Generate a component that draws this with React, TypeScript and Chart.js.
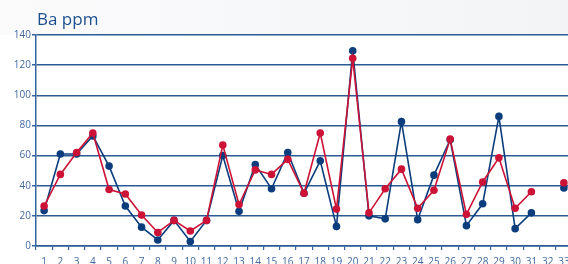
import React, { useEffect, useRef } from "react";
import { Chart, registerables } from "chart.js";

Chart.register(...registerables);

const categories = ["1","2","3","4","5","6","7","8","9","10","11","12","13","14","15","16","17","18","19","20","21","22","23","24","25","26","27","28","29","30","31","32","33"];
const redSeries = [26.5, 47.5, 62, 75, 37.5, 34.5, 20.5, 9, 17, 10, 17, 67, 27.5, 50.5, 47.5, 57.5, 35, 75, 24.5, 124.5, 22, 38, 51, 25, 37, 71, 21, 42.5, 58.5, 25, 36, null, 42];
const blueSeries = [23.5, 61, 61, 73, 53, 26.5, 12.5, 4, 17, 3, 17, 60, 23, 54, 38, 62, 35, 56.5, 13, 129.5, 20, 18, 82.5, 17.5, 47, 70.5, 13.5, 28, 86, 11.5, 22, null, 38.5];
const yTicks = [0, 20, 40, 60, 80, 100, 120, 140];
const titleText = "Ba ppm";

const NAVY = "#0b3d7c";
const RED = "#cc1236";
const AXIS = "#3562a0";
const GRID = "#2d5a94";
const LABEL = "#41699f";
const FONT = "'Open Sans', 'Noto Sans', sans-serif";

export default function App() {
  const ref = useRef<HTMLCanvasElement | null>(null);
  useEffect(() => {
    const canvas = ref.current;
    if (!canvas) return;
    const bgPlugin = {
      id: "bgTitle",
      beforeDraw(chart: any) {
        const { ctx, chartArea } = chart;
        ctx.save();
        const g = ctx.createLinearGradient(0, 0, chart.width, 0);
        g.addColorStop(0, "#fbfbfc");
        g.addColorStop(1, "#f3f4f6");
        ctx.fillStyle = g;
        ctx.fillRect(0, 0, chart.width, chart.height);
        ctx.fillStyle = "#ffffff";
        ctx.fillRect(0, chartArea.top, chart.width, chart.height - chartArea.top);
        ctx.restore();
      },
      afterDraw(chart: any) {
        const { ctx } = chart;
        ctx.save();
        ctx.fillStyle = "#1d4f8c";
        ctx.font = `17px ${FONT}`;
        ctx.textBaseline = "alphabetic";
        ctx.textAlign = "left";
        ctx.fillText(titleText, 37, 25);
        ctx.restore();
      },
    };
    const chart = new Chart(canvas, {
      type: "line",
      data: {
        labels: categories,
        datasets: [
          {
            label: "red",
            data: redSeries,
            borderColor: RED,
            backgroundColor: RED,
            pointBackgroundColor: RED,
            pointBorderColor: RED,
            borderWidth: 1.6,
            pointRadius: 3.8,
            pointBorderWidth: 0,
            spanGaps: false,
            tension: 0,
          },
          {
            label: "blue",
            data: blueSeries,
            borderColor: NAVY,
            backgroundColor: NAVY,
            pointBackgroundColor: NAVY,
            pointBorderColor: NAVY,
            borderWidth: 1.6,
            pointRadius: 3.8,
            pointBorderWidth: 0,
            spanGaps: false,
            tension: 0,
          },
        ],
      },
      options: {
        responsive: false,
        animation: false,
        devicePixelRatio: 1,
        layout: { padding: { top: 35, left: 0, right: 0, bottom: 0 } },
        plugins: {
          legend: { display: false },
          title: { display: false },
          tooltip: { enabled: false },
        },
        scales: {
          x: {
            type: "category",
            offset: true,
            afterFit(scale: any) { scale.height = 24; scale.paddingRight = 0; scale.paddingLeft = 0; },
            grid: {
              offset: true,
              drawOnChartArea: false,
              drawTicks: true,
              tickLength: 4,
              color: AXIS,
              lineWidth: 1.2,
            },
            border: { display: true, color: GRID, width: 1.5 },
            ticks: {
              color: LABEL,
              font: { family: FONT, size: 10 },
              padding: 6,
              maxRotation: 0,
              autoSkip: false,
            },
          },
          y: {
            min: 0,
            max: 140,
            afterFit(scale: any) { scale.width = 36; },
            afterBuildTicks(scale: any) { scale.ticks = yTicks.map((v) => ({ value: v })); },
            grid: {
              color: GRID,
              lineWidth: 1.5,
              drawTicks: true,
              tickLength: 4,
              tickColor: AXIS,
            },
            border: { display: true, color: AXIS, width: 1.5 },
            ticks: {
              color: LABEL,
              font: { family: FONT, size: 10 },
              padding: 1,
            },
          },
        },
      },
      plugins: [bgPlugin],
    } as any);
    return () => chart.destroy();
  }, []);
  return (
    <div style={{ position: "fixed", left: 0, top: 0, width: 568, height: 264, overflow: "hidden", background: "#fff" }}>
      <canvas ref={ref} width={576} height={270} style={{ display: "block", width: 576, height: 270 }} />
    </div>
  );
}
